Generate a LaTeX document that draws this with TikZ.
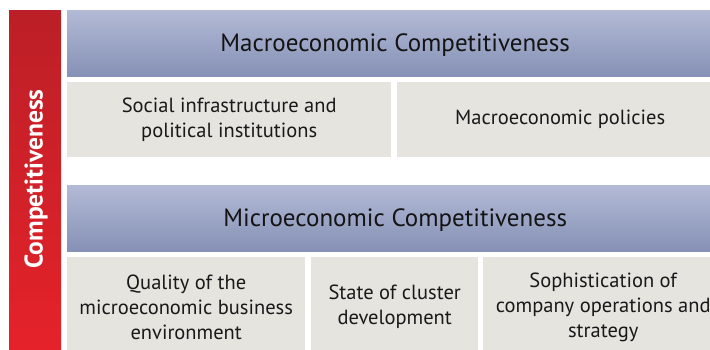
\documentclass[tikz,border=0pt]{standalone}
\usepackage{fontspec}
\setmainfont{PT Sans}
\definecolor{bartop}{HTML}{BC1F27}
\definecolor{barbot}{HTML}{E6222A}
\definecolor{bandtop}{HTML}{B3BAD6}
\definecolor{bandbot}{HTML}{8591B5}
\definecolor{cellgray}{HTML}{E5E4DE}
\begin{document}
\begin{tikzpicture}[
  x=1pt,y=-1pt,
  band/.style={anchor=north west,inner sep=0pt,minimum height=66pt,
    top color=bandtop,bottom color=bandbot,
    text height=17pt,text depth=0pt,
    font=\fontsize{25}{30}\selectfont,text=black!92},
  cell/.style={anchor=north west,inner sep=0pt,fill=cellgray,
    align=center,text=black!90,font=\fontsize{20.5}{25}\selectfont},
]
\useasboundingbox (0,0) rectangle (710,349);
\clip (0,0) rectangle (710,349);
\def\rgt{723}

% ----- red side bar -----
\node[anchor=north west,inner sep=0pt,minimum width=52pt,minimum height=345pt,
  top color=bartop,bottom color=barbot] (bar) at (9,10) {};
\node[rotate=90,text=white,font=\fontsize{25.5}{28}\selectfont\bfseries]
  (barlbl) at (36,179) {Competitiveness};

% ----- macroeconomic level -----
\node[band,minimum width=\rgt pt-67pt] (macro) at (67,10)
  {Macroeconomic Competitiveness};
\node[cell,minimum width=324pt,minimum height=75pt] (social) at (67,82)
  {Social infrastructure and\\political institutions};
\node[cell,minimum width=\rgt pt-397pt,minimum height=75pt] (policies) at (397,82)
  {Macroeconomic policies};

% ----- microeconomic level -----
\node[band,minimum width=\rgt pt-67pt] (micro) at (67,185)
  {Microeconomic Competitiveness};
\node[cell,minimum width=238pt,minimum height=100pt] (quality) at (67,257)
  {Quality of the\\microeconomic business\\environment};
\node[cell,minimum width=167pt,minimum height=100pt] (cluster) at (311,257)
  {State of cluster\\development};
\node[cell,minimum width=\rgt pt-483pt,minimum height=100pt] (company) at (483,257)
  {Sophistication of\\company operations and\\strategy};

\end{tikzpicture}
\end{document}
